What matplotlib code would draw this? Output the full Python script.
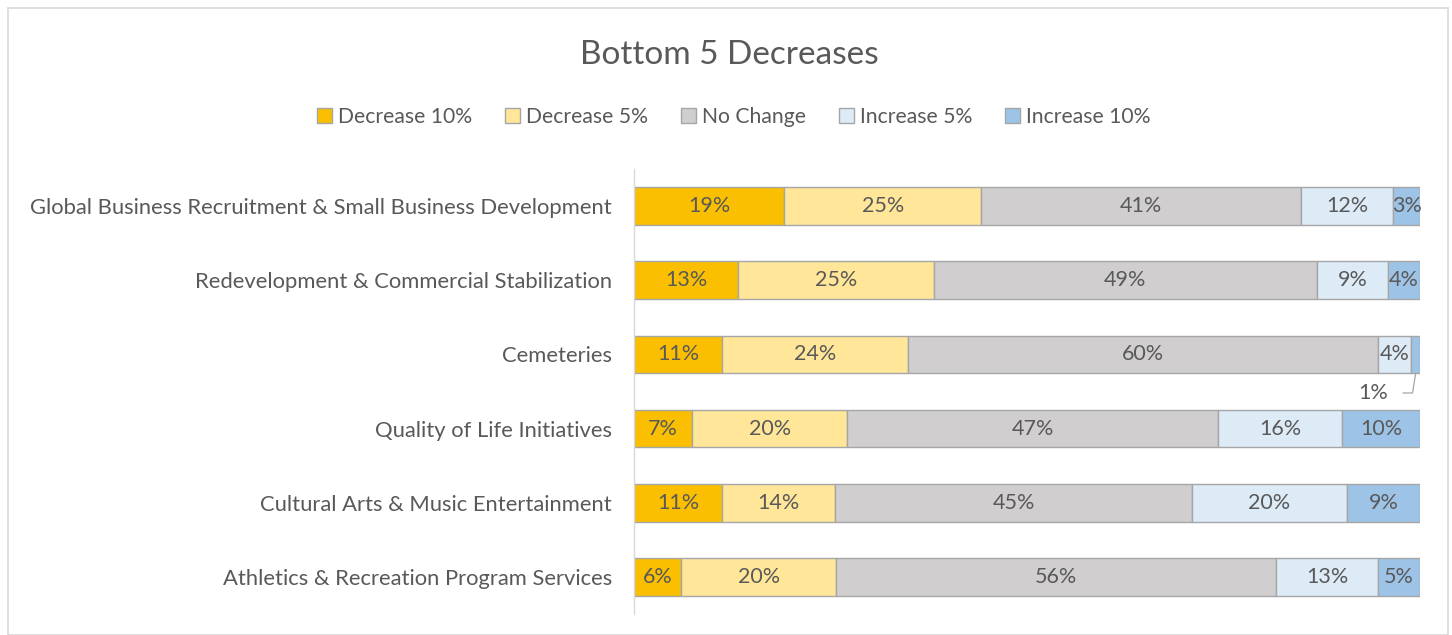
import matplotlib
matplotlib.use("Agg")
import matplotlib.pyplot as plt
from matplotlib.patches import Rectangle, Patch
import numpy as np

categories = [
    "Global Business Recruitment & Small Business Development",
    "Redevelopment & Commercial Stabilization",
    "Cemeteries",
    "Quality of Life Initiatives",
    "Cultural Arts & Music Entertainment",
    "Athletics & Recreation Program Services",
]
series_names = ["Decrease 10%", "Decrease 5%", "No Change", "Increase 5%", "Increase 10%"]
decrease_10 = [19.1, 13.2, 11.2, 7.4, 11.2, 6.0]
decrease_5 = [25.1, 24.9, 23.7, 19.7, 14.4, 19.7]
no_change = [40.7, 48.7, 59.8, 47.2, 45.3, 56.0]
increase_5 = [11.7, 9.0, 4.2, 15.8, 19.7, 13.0]
increase_10 = [3.4, 4.1, 1.1, 9.9, 9.3, 5.3]

colors = ["#FABF00", "#FFE699", "#D0CECE", "#DDEBF7", "#9DC3E6"]
edge = "#A6A6A6"
txt = "#595959"

plt.rcParams['font.family'] = ['Lato', 'DejaVu Sans']

fig = plt.figure(figsize=(14.52, 6.35), dpi=100)
W, H = 1452, 635
ax = fig.add_axes([634 / W, 1 - 614 / H, (1420 - 634) / W, (614 - 169) / H])

data = np.array([decrease_10, decrease_5, no_change, increase_5, increase_10])
totals = data.sum(axis=0)
pct = data / totals * 100
y = np.arange(len(categories))
bh = 0.51

left = np.zeros(len(categories))
for i, name in enumerate(series_names):
    ax.barh(y, pct[i], left=left, height=bh, color=colors[i], edgecolor=edge,
            linewidth=1.0, label=name)
    for j in range(len(categories)):
        raw = data[i, j]
        lab = f"{round(raw):d}%"
        cx = left[j] + pct[i, j] / 2
        if pct[i, j] < 2:
            ly = y[j] + 0.52
            ax.plot([cx, cx - 0.4, cx - 1.6], [y[j] + bh / 2, ly, ly],
                    color='#A6A6A6', lw=0.9, clip_on=False, solid_joinstyle='miter')
            ax.text(cx - 5.4, ly, lab, ha='center', va='center', fontsize=15.5, color=txt)
        else:
            ax.text(cx, y[j], lab, ha='center', va='center', fontsize=15.5, color=txt)
    left += pct[i]

ax.set_xlim(0, 100)
ax.set_ylim(len(categories) - 0.5, -0.5)
ax.set_yticks(y)
ax.set_yticklabels(categories, fontsize=15.8, color=txt)
ax.tick_params(axis='y', length=0, pad=16)
ax.set_xticks([])
for s in ['top', 'right', 'bottom']:
    ax.spines[s].set_visible(False)
ax.spines['left'].set_color('#D9D9D9')
ax.spines['left'].set_linewidth(1.0)

fig.text(729 / W, 1 - 55 / H, "Bottom 5 Decreases", ha='center', va='center',
         fontsize=24, color=txt)

handles = [Patch(facecolor=colors[i], edgecolor=edge, linewidth=1.0) for i in range(5)]
fig.legend(handles, series_names, loc='center', bbox_to_anchor=(734 / W, 1 - 117 / H),
           ncol=5, frameon=False, fontsize=15.2, labelcolor=txt,
           handlelength=0.7, handleheight=0.7, handletextpad=0.3, columnspacing=1.55)

fig.patches.append(Rectangle((8 / W, 0), (1448 - 8) / W, 1 - 8 / H, transform=fig.transFigure,
                             fill=False, edgecolor='#D9D9D9', linewidth=1.2))

fig.savefig("out.png", dpi=100, facecolor='white')
